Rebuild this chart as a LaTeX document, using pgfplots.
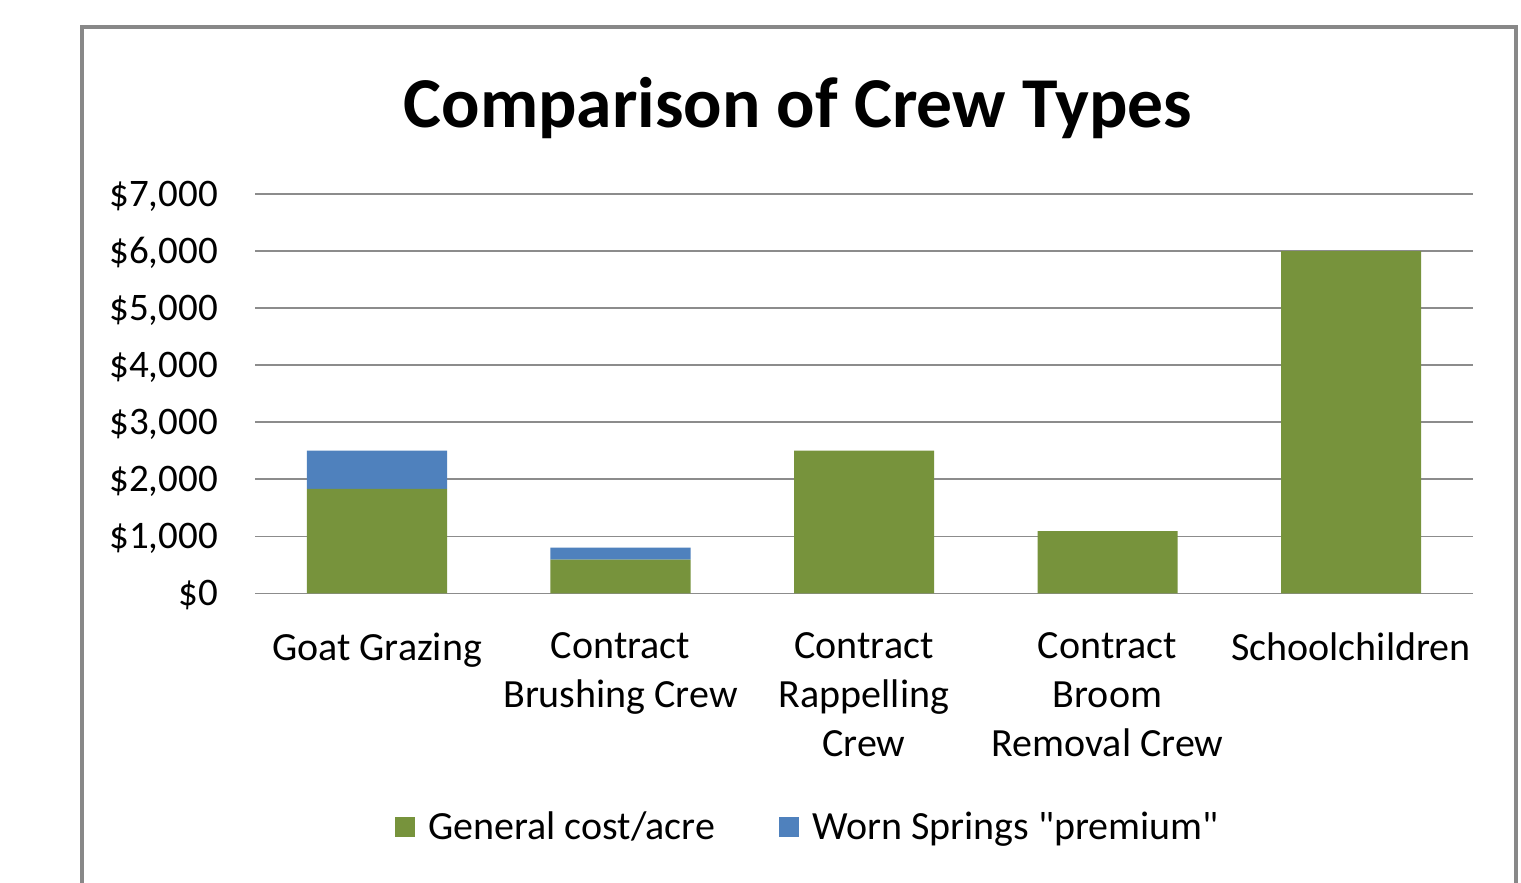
\documentclass[border=0pt]{standalone}
\usepackage{pgfplots}
\pgfplotsset{compat=1.18}
\usepackage{fontspec}
\setmainfont{Carlito}
\definecolor{cgreen}{HTML}{77933C}
\definecolor{cblue}{HTML}{4F81BD}
\definecolor{cgrid}{HTML}{8C8C8C}
\definecolor{cframe}{HTML}{888888}
\begin{document}
\begin{tikzpicture}
\useasboundingbox (0,0) rectangle (760.5pt,441.5pt);
\fill[white] (0,0) rectangle (760.5pt,441.5pt);
\begin{scope}
\clip (0,0) rectangle (760.5pt,441.5pt);
\draw[cframe, line width=2pt] (41pt,-10pt) rectangle (758pt,428pt);
\end{scope}
\node[anchor=base, font=\fontsize{35.8}{40}\selectfont\bfseries, inner sep=0pt] at (399pt,377.5pt) {Comparison of Crew Types};
\begin{axis}[
  at={(127.625pt,144.85pt)}, anchor=south west,
  scale only axis, width=608.75pt, height=199.65pt,
  ybar stacked, bar width=0.575,
  xmin=-0.5, xmax=4.5, ymin=0, ymax=7000,
  xtick={0,1,2,3,4},
  xticklabels={Goat Grazing, Contract\\Brushing Crew, Contract\\Rappelling\\Crew, Contract\\Broom\\Removal Crew, Schoolchildren},
  xticklabel style={align=center, anchor=north, inner sep=0pt, yshift=-19.5pt, font=\fontsize{20}{24.5}\selectfont},
  ytick={0,1000,...,7000},
  yticklabels={{\$0},{\$1,000},{\$2,000},{\$3,000},{\$4,000},{\$5,000},{\$6,000},{\$7,000}},
  yticklabel style={anchor=east, inner sep=0pt, xshift=-18.5pt, yshift=-1pt, font=\fontsize{19.5}{24.5}\selectfont},
  /pgf/number format/assume math mode=true,
  ymajorgrids, major grid style={cgrid, line width=0.75pt},
  axis line style={draw=none}, major tick style={draw=none},
  legend columns=2,
  legend style={at={(0.4532,-0.585)}, anchor=center, draw=none, fill=none,
    inner sep=0pt, row sep=0pt,
    font=\fontsize{20}{24.5}\selectfont,
    nodes={inner sep=0pt, anchor=west},
    /tikz/every odd column/.append style={column sep=6.5pt},
    /tikz/every even column/.append style={column sep=32pt}},
  legend image code/.code={\fill[#1] (0pt,-5pt) rectangle (10pt,5pt);},
]
\addplot[fill=cgreen, draw=none] coordinates {(0,1830) (1,590) (2,2500) (3,1090) (4,6000)};
\addplot[fill=cblue, draw=none] coordinates {(0,670) (1,210) (2,0) (3,0) (4,0)};
\legend{General cost/acre, Worn Springs \textquotedbl premium\textquotedbl}
\end{axis}
\end{tikzpicture}
\end{document}
